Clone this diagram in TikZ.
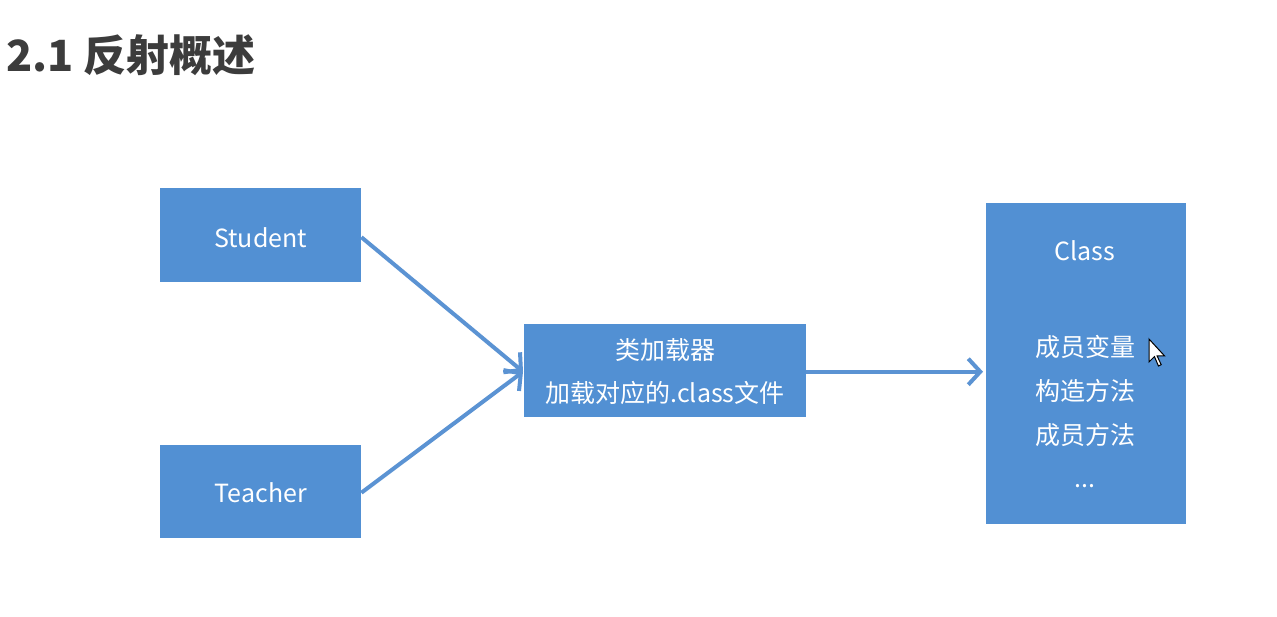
\documentclass[tikz,border=0pt]{standalone}
\usepackage{fontspec}
\setmainfont{Noto Sans CJK SC}
\usetikzlibrary{arrows.meta}
\definecolor{boxblue}{HTML}{5290D3}
\definecolor{linkblue}{HTML}{5B93D3}
\definecolor{titlegray}{HTML}{3C3C3C}
\begin{document}
\begin{tikzpicture}[x=1pt,y=-1pt,
  block/.style={fill=boxblue, draw=none, text=white, inner sep=0pt, anchor=north west},
  label/.style={text=white, font=\fontsize{25}{30}\selectfont, inner sep=0pt},
  link/.style={draw=linkblue, line width=4pt, -{Straight Barb[length=12pt,width=26pt,line width=4pt]}}]
  \useasboundingbox[fill=white] (0,0) rectangle (1277,616);
  % title
  \node[anchor=west, text=titlegray, font=\fontsize{43}{50}\bfseries\selectfont, inner sep=0pt] (title) at (6,55) {2.1 反射概述};
  % boxes
  \node[block, minimum width=201pt, minimum height=94pt] (student) at (160,188) {};
  \node[label] at ([yshift=-3pt]student.center) {Student};
  \node[block, minimum width=201pt, minimum height=93pt] (teacher) at (160,445) {};
  \node[label] at ([yshift=-1pt]teacher.center) {Teacher};
  \node[block, minimum width=282pt, minimum height=93pt] (loader) at (524,324) {};
  \node[label] (l1) at (665,350) {类加载器};
  \node[label] (l2) at (665,393) {加载对应的.class文件};
  \node[block, minimum width=200pt, minimum height=321pt] (class) at (986,203) {};
  \node[label] (c0) at (1085,251) {Class};
  \node[label] (c1) at (1085,347) {成员变量};
  \node[label] (c2) at (1085,391) {构造方法};
  \node[label] (c3) at (1085,435) {成员方法};
  \node[label] (c4) at (1085,486) {...};
  % connectors
  \coordinate (join) at ([xshift=-1pt,yshift=-1pt]loader.west);
  \draw[link] ([yshift=-2pt]student.east) -- (join);
  \draw[link] ([yshift=-1pt]teacher.east) -- (join);
  \draw[link] ([yshift=-1pt]loader.east) -- ([xshift=-3pt,yshift=-1pt]loader.east -| class.west);
  % mouse pointer
  \begin{scope}[shift={(1149,339)}, scale=1.35]
    \draw[fill=white, draw=black, line width=1pt, line join=miter]
      (0,0) -- (0,17) -- (4,13) -- (7,20) -- (9,19) -- (6,12.5) -- (11.5,12.5) -- cycle;
  \end{scope}
\end{tikzpicture}
\end{document}
